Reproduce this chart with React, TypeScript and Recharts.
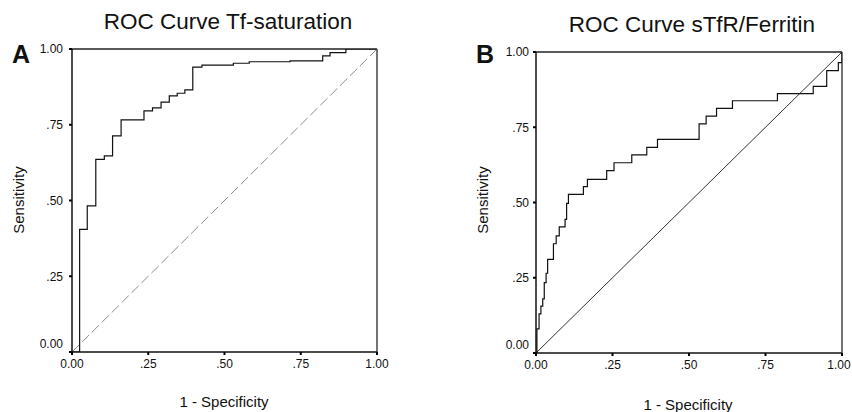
import React from "react";
import { LineChart, Line, XAxis, YAxis, ReferenceLine } from "recharts";

// ---- Data ----
const axisTicks = [0, 0.25, 0.5, 0.75, 1];
const tickLabels = ["0.00", ".25", ".50", ".75", "1.00"];

// Panel A: ROC Curve Tf-saturation (1 - specificity, sensitivity)
const fprA = [0, 0.025, 0.05, 0.078, 0.106, 0.133, 0.161, 0.236, 0.264, 0.292, 0.319, 0.345, 0.37, 0.396, 0.426, 0.529, 0.581, 0.715, 0.822, 0.846, 0.898, 1.0];
const tprA = [0, 0.405, 0.482, 0.636, 0.647, 0.713, 0.766, 0.796, 0.806, 0.825, 0.845, 0.854, 0.865, 0.94, 0.947, 0.953, 0.958, 0.961, 0.977, 0.988, 1.0, 1.0];

// Panel B: ROC Curve sTfR/Ferritin
const fprB = [0, 0.003, 0.01, 0.016, 0.022, 0.027, 0.033, 0.038, 0.057, 0.066, 0.076, 0.095, 0.1, 0.106, 0.155, 0.168, 0.231, 0.255, 0.313, 0.362, 0.397, 0.533, 0.556, 0.59, 0.642, 0.789, 0.906, 0.95, 0.988, 1.0];
const tprB = [0, 0.08, 0.13, 0.156, 0.18, 0.234, 0.265, 0.311, 0.363, 0.389, 0.419, 0.444, 0.497, 0.527, 0.553, 0.577, 0.606, 0.632, 0.658, 0.683, 0.71, 0.761, 0.787, 0.813, 0.838, 0.862, 0.886, 0.938, 0.965, 1.0];

// Reference (chance) diagonal
const diagX = [0, 1];
const diagY = [0, 1];

const titles = ["ROC Curve Tf-saturation", "ROC Curve sTfR/Ferritin"];
const panelLetters = ["A", "B"];
const xLabel = "1 - Specificity";
const yLabel = "Sensitivity";

const FONT = "'Liberation Sans', Arial, sans-serif";

const toPts = (xs: number[], ys: number[]) => xs.map((x, i) => ({ x, y: ys[i] }));
const rocA = toPts(fprA, tprA);
const rocB = toPts(fprB, tprB);
const diag = toPts(diagX, diagY);

const labelFor = (v: number) => {
  const i = axisTicks.indexOf(v);
  return i >= 0 ? tickLabels[i] : String(v);
};

const YTick = (props: any) => {
  const { x, y, payload } = props;
  const shift = payload.value === 0 ? -8 : 0;
  return (
    <text x={x} y={y + shift} dy="0.355em" textAnchor="end" fontSize={12} fill="#111" fontFamily={FONT}>
      {labelFor(payload.value)}
    </text>
  );
};

const XTick = (props: any) => {
  const { x, y, payload, lastShift } = props;
  const dx = payload.value === 1 ? lastShift || 0 : 0;
  return (
    <text x={x + dx} y={y} dy="0.71em" textAnchor="middle" fontSize={12} fill="#111" fontFamily={FONT}>
      {labelFor(payload.value)}
    </text>
  );
};

type PanelProps = {
  data: { x: number; y: number }[];
  width: number;
  margin: { top: number; right: number; left: number; bottom: number };
  diagDash?: string;
  diagColor: string;
  yTickMargin: number;
  lastShift: number;
};

const Panel = ({ data, width, margin, diagDash, diagColor, yTickMargin, lastShift }: PanelProps) => (
  <LineChart width={width} height={412} margin={margin}>
    <XAxis
      type="number"
      dataKey="x"
      domain={[0, 1]}
      ticks={axisTicks}
      allowDataOverflow
      height={30}
      tick={<XTick lastShift={lastShift} />}
      tickSize={3}
      tickMargin={4}
      axisLine={{ stroke: "#111", strokeWidth: 1.5 }}
      tickLine={{ stroke: "#000", strokeWidth: 2 }}
    />
    <YAxis
      type="number"
      dataKey="y"
      domain={[0, 1]}
      ticks={axisTicks}
      allowDataOverflow
      width={60}
      tick={<YTick />}
      tickSize={3}
      tickMargin={yTickMargin}
      axisLine={{ stroke: "#111", strokeWidth: 1.5 }}
      tickLine={{ stroke: "#000", strokeWidth: 2 }}
    />
    <ReferenceLine y={1} stroke="#222" strokeWidth={1.5} />
    <ReferenceLine x={1} stroke="#444" strokeWidth={1.5} />
    <Line
      data={diag}
      dataKey="y"
      type="linear"
      stroke={diagColor}
      strokeWidth={1}
      strokeDasharray={diagDash}
      dot={false}
      isAnimationActive={false}
    />
    <Line
      data={data}
      dataKey="y"
      type="stepAfter"
      stroke="#111"
      strokeWidth={1.2}
      dot={false}
      isAnimationActive={false}
    />
  </LineChart>
);

export default function App() {
  return (
    <div style={{ position: "absolute", left: 0, top: 0, width: 852, height: 412, background: "#fff", overflow: "hidden" }}>
      <div style={{ position: "absolute", left: 0, top: 0 }}>
        <Panel
          data={rocA}
          width={394}
          margin={{ top: 49, right: 17, left: 12, bottom: 30 }}
          diagDash="10 4"
          diagColor="#8c8c8c"
          yTickMargin={6}
          lastShift={0}
        />
      </div>
      <div style={{ position: "absolute", left: 430, top: 0 }}>
        <Panel
          data={rocB}
          width={422}
          margin={{ top: 52, right: 10, left: 46, bottom: 29 }}
          diagColor="#333"
          yTickMargin={4}
          lastShift={-3}
        />
      </div>
      <svg width={852} height={412} style={{ position: "absolute", left: 0, top: 0, pointerEvents: "none" }}>
        <g fontFamily={FONT} fill="#111">
          <text x={228} y={29} textAnchor="middle" fontSize={22.5}>{titles[0]}</text>
          <text x={692} y={31.5} textAnchor="middle" fontSize={22.5}>{titles[1]}</text>
          <text x={12} y={63} fontSize={25} fontWeight="bold">{panelLetters[0]}</text>
          <text x={476} y={63} fontSize={25} fontWeight="bold">{panelLetters[1]}</text>
          <text x={24} y={200} textAnchor="middle" fontSize={15} transform="rotate(-90 24 200)">{yLabel}</text>
          <text x={488} y={200} textAnchor="middle" fontSize={15} transform="rotate(-90 488 200)">{yLabel}</text>
          <text x={224} y={407} textAnchor="middle" fontSize={15}>{xLabel}</text>
          <text x={688} y={410} textAnchor="middle" fontSize={15}>{xLabel}</text>
        </g>
      </svg>
    </div>
  );
}
